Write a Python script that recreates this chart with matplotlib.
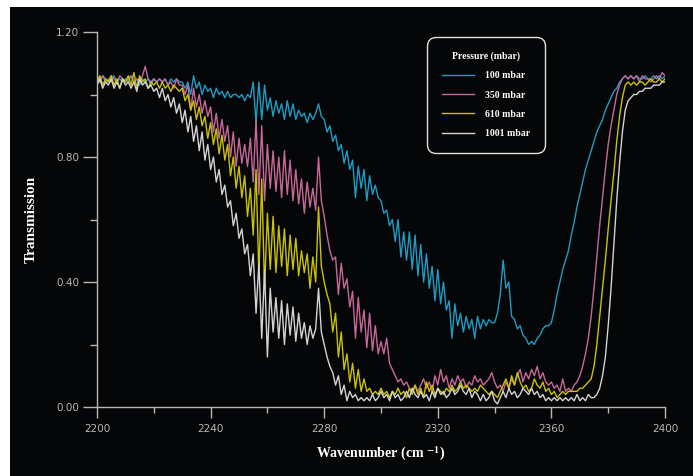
import numpy as np
import matplotlib
matplotlib.use("Agg")
import matplotlib.pyplot as plt
from matplotlib.patches import Rectangle

# wavenumber grid (cm-1), one reading per cm-1
wavenumber = np.arange(2200, 2401)

# transmission, 2200 -> 2400
t_100 = [
    1.05, 1.04, 1.06, 1.04, 1.05, 1.04, 1.06, 1.04, 1.05, 1.04,
    1.05, 1.04, 1.06, 1.04, 1.05, 1.03, 1.05, 1.04, 1.05, 1.03,
    1.05, 1.04, 1.05, 1.04, 1.05, 1.03, 1.05, 1.04, 1.05, 1.04,
    1.04, 1.02, 1.04, 1.00, 1.06, 1.02, 1.04, 1.00, 1.03, 1.01,
    1.02, 0.99, 1.02, 1.00, 1.01, 0.99, 1.01, 0.99, 1.00, 1.00,
    0.99, 1.00, 0.98, 1.00, 0.99, 1.04, 0.91, 1.04, 0.92, 1.03,
    0.95, 0.99, 0.93, 0.98, 0.94, 0.97, 0.92, 0.98, 0.93, 0.97,
    0.92, 0.95, 0.93, 0.94, 0.91, 0.94, 0.92, 0.94, 0.97, 0.93,
    0.92, 0.88, 0.90, 0.85, 0.87, 0.82, 0.84, 0.78, 0.82, 0.76,
    0.79, 0.67, 0.77, 0.70, 0.76, 0.66, 0.74, 0.68, 0.71, 0.67,
    0.66, 0.62, 0.63, 0.58, 0.60, 0.53, 0.60, 0.48, 0.56, 0.47,
    0.56, 0.44, 0.55, 0.42, 0.52, 0.40, 0.49, 0.38, 0.45, 0.34,
    0.44, 0.33, 0.40, 0.31, 0.34, 0.22, 0.33, 0.26, 0.30, 0.24,
    0.29, 0.25, 0.28, 0.22, 0.29, 0.25, 0.28, 0.26, 0.28, 0.27,
    0.27, 0.30, 0.36, 0.47, 0.38, 0.40, 0.29, 0.28, 0.25, 0.26,
    0.23, 0.22, 0.20, 0.21, 0.20, 0.22, 0.23, 0.25, 0.26, 0.26,
    0.27, 0.31, 0.36, 0.40, 0.44, 0.47, 0.50, 0.55, 0.59, 0.64,
    0.68, 0.72, 0.76, 0.79, 0.82, 0.85, 0.88, 0.90, 0.92, 0.95,
    0.97, 0.99, 1.01, 1.02, 1.04, 1.05, 1.06, 1.05, 1.06, 1.05,
    1.06, 1.05, 1.05, 1.06, 1.05, 1.05, 1.06, 1.05, 1.06, 1.05,
    1.06,
]
t_350 = [
    1.06, 1.04, 1.06, 1.05, 1.04, 1.06, 1.05, 1.04, 1.06, 1.05,
    1.04, 1.05, 1.06, 1.04, 1.05, 1.04, 1.06, 1.09, 1.05, 1.04,
    1.05, 1.04, 1.05, 1.04, 1.05, 1.03, 1.04, 1.02, 1.05, 1.03,
    1.03, 1.00, 1.03, 0.95, 1.02, 0.96, 1.00, 0.94, 0.98, 0.93,
    0.96, 0.88, 0.94, 0.86, 0.92, 0.85, 0.90, 0.80, 0.88, 0.77,
    0.86, 0.78, 0.84, 0.77, 0.86, 0.72, 0.92, 0.68, 0.90, 0.66,
    0.84, 0.70, 0.82, 0.69, 0.80, 0.67, 0.82, 0.68, 0.79, 0.66,
    0.76, 0.65, 0.73, 0.62, 0.72, 0.64, 0.70, 0.63, 0.80, 0.66,
    0.61, 0.55, 0.50, 0.47, 0.48, 0.36, 0.46, 0.38, 0.41, 0.32,
    0.37, 0.22, 0.35, 0.24, 0.31, 0.19, 0.30, 0.18, 0.26, 0.17,
    0.21, 0.17, 0.22, 0.14, 0.12, 0.10, 0.08, 0.09, 0.07, 0.08,
    0.06, 0.05, 0.07, 0.05, 0.07, 0.09, 0.06, 0.08, 0.05, 0.10,
    0.07, 0.12, 0.08, 0.10, 0.06, 0.09, 0.07, 0.10, 0.08, 0.09,
    0.06, 0.08, 0.07, 0.10, 0.08, 0.09, 0.07, 0.08, 0.09, 0.11,
    0.08, 0.06, 0.07, 0.05, 0.08, 0.06, 0.09, 0.07, 0.10, 0.12,
    0.08, 0.11, 0.09, 0.12, 0.10, 0.13, 0.09, 0.11, 0.08, 0.07,
    0.08, 0.06, 0.07, 0.05, 0.09, 0.05, 0.06, 0.05, 0.07, 0.08,
    0.10, 0.13, 0.17, 0.22, 0.29, 0.38, 0.48, 0.58, 0.67, 0.76,
    0.84, 0.90, 0.95, 1.00, 1.03, 1.05, 1.06, 1.05, 1.06, 1.05,
    1.06, 1.04, 1.06, 1.05, 1.05, 1.04, 1.05, 1.06, 1.05, 1.07,
    1.06,
]
t_610 = [
    1.04, 1.06, 1.03, 1.05, 1.04, 1.06, 1.03, 1.05, 1.02, 1.05,
    1.04, 1.06, 1.03, 1.07, 1.02, 1.06, 1.04, 1.05, 1.02, 1.04,
    1.03, 1.04, 1.02, 1.04, 1.02, 1.03, 1.01, 1.03, 1.02, 1.01,
    1.02, 0.98, 1.00, 0.95, 0.98, 0.92, 0.96, 0.90, 0.93, 0.86,
    0.91, 0.84, 0.89, 0.81, 0.87, 0.79, 0.84, 0.74, 0.80, 0.70,
    0.77, 0.67, 0.74, 0.61, 0.70, 0.55, 0.76, 0.42, 0.73, 0.38,
    0.62, 0.44, 0.61, 0.43, 0.58, 0.45, 0.57, 0.42, 0.55, 0.44,
    0.54, 0.42, 0.50, 0.43, 0.49, 0.38, 0.48, 0.40, 0.64, 0.45,
    0.40, 0.36, 0.33, 0.24, 0.30, 0.16, 0.24, 0.12, 0.17, 0.08,
    0.14, 0.06, 0.12, 0.05, 0.09, 0.05, 0.06, 0.04, 0.05, 0.04,
    0.06, 0.04, 0.05, 0.03, 0.05, 0.04, 0.06, 0.04, 0.05, 0.03,
    0.06, 0.04, 0.07, 0.04, 0.06, 0.03, 0.08, 0.05, 0.07, 0.04,
    0.06, 0.05, 0.04, 0.06, 0.05, 0.07, 0.05, 0.06, 0.08, 0.06,
    0.07, 0.06, 0.05, 0.06, 0.05, 0.07, 0.06, 0.05, 0.04, 0.05,
    0.04, 0.03, 0.05, 0.07, 0.09, 0.06, 0.10, 0.07, 0.11, 0.08,
    0.06, 0.07, 0.05, 0.06, 0.09, 0.07, 0.06, 0.08, 0.05, 0.06,
    0.04, 0.05, 0.03, 0.04, 0.05, 0.04, 0.05, 0.05, 0.05, 0.05,
    0.06, 0.06, 0.07, 0.08, 0.09, 0.13, 0.20, 0.29, 0.38, 0.47,
    0.57, 0.66, 0.75, 0.85, 0.93, 0.99, 1.03, 1.04, 1.03, 1.04,
    1.03, 1.04, 1.04, 1.03, 1.04, 1.05, 1.04, 1.04, 1.05, 1.04,
    1.05,
]
t_1001 = [
    1.03, 1.05, 1.02, 1.04, 1.03, 1.05, 1.02, 1.04, 1.02, 1.05,
    1.03, 1.04, 1.02, 1.04, 1.01, 1.05, 1.03, 1.04, 1.02, 1.03,
    1.01, 1.02, 0.99, 1.02, 0.98, 1.00, 0.96, 0.99, 0.94, 0.97,
    0.91, 0.95, 0.88, 0.93, 0.85, 0.90, 0.82, 0.88, 0.79, 0.84,
    0.76, 0.80, 0.72, 0.76, 0.68, 0.71, 0.64, 0.66, 0.58, 0.62,
    0.54, 0.57, 0.49, 0.52, 0.42, 0.49, 0.30, 0.46, 0.22, 0.44,
    0.16, 0.38, 0.24, 0.35, 0.22, 0.34, 0.20, 0.33, 0.23, 0.32,
    0.21, 0.30, 0.22, 0.27, 0.20, 0.26, 0.22, 0.25, 0.38, 0.24,
    0.20, 0.16, 0.13, 0.11, 0.07, 0.10, 0.04, 0.07, 0.02, 0.05,
    0.03, 0.04, 0.02, 0.03, 0.02, 0.03, 0.02, 0.04, 0.02, 0.03,
    0.05, 0.03, 0.04, 0.02, 0.05, 0.03, 0.04, 0.02, 0.03, 0.05,
    0.03, 0.06, 0.04, 0.03, 0.05, 0.03, 0.04, 0.02, 0.05, 0.03,
    0.06, 0.04, 0.05, 0.03, 0.04, 0.06, 0.04, 0.05, 0.07, 0.05,
    0.04, 0.06, 0.03, 0.05, 0.04, 0.02, 0.04, 0.02, 0.03, 0.05,
    0.02, 0.01, 0.03, 0.05, 0.03, 0.06, 0.04, 0.05, 0.03, 0.04,
    0.06, 0.05, 0.04, 0.06, 0.04, 0.05, 0.03, 0.04, 0.02, 0.03,
    0.02, 0.03, 0.02, 0.03, 0.02, 0.03, 0.02, 0.03, 0.02, 0.04,
    0.02, 0.03, 0.02, 0.04, 0.03, 0.03, 0.04, 0.06, 0.10, 0.16,
    0.26, 0.38, 0.52, 0.66, 0.78, 0.88, 0.95, 0.98, 0.99, 1.00,
    1.00, 1.01, 1.01, 1.02, 1.02, 1.02, 1.03, 1.03, 1.03, 1.04,
    1.04,
]

series = [
    ("100 mbar", t_100, "#1f9cc4"),
    ("350 mbar", t_350, "#c8689a"),
    ("610 mbar", t_610, "#cbc200"),
    ("1001 mbar", t_1001, "#d4d4d4"),
]

x_ticks = [2200, 2240, 2280, 2320, 2360, 2400]
y_ticks = [0.0, 0.4, 0.8, 1.2]

SERIF = ["Liberation Serif", "DejaVu Serif"]
plt.rcParams["mathtext.fontset"] = "stix"

fig = plt.figure(figsize=(6.93, 4.76), dpi=100, facecolor="white")
# black panel with a light frame on top / left like the original screenshot
fig.patches.append(Rectangle((10 / 693, 0), 1, (476 - 7) / 476,
                             transform=fig.transFigure, facecolor="#050608",
                             edgecolor="none", zorder=-1))

ax = fig.add_axes([97 / 693, (476 - 407) / 476, 568 / 693, 375 / 476])
ax.set_facecolor("none")

for label, vals, colour in series:
    ax.plot(wavenumber, vals, color=colour, lw=1.0, label=label)

ax.set_xlim(2200, 2400)
ax.set_ylim(0, 1.2)
ax.set_xticks(x_ticks)
ax.set_xticks(np.arange(2220, 2400, 40), minor=True)
ax.set_yticks(y_ticks)
ax.set_yticks([0.2, 0.6, 1.0], minor=True)
ax.set_xticklabels([str(v) for v in x_ticks])
ax.set_yticklabels([f"{v:.2f}" for v in y_ticks])

for side in ("top", "right"):
    ax.spines[side].set_visible(False)
for side in ("left", "bottom"):
    ax.spines[side].set_color("#b8b8b8")
    ax.spines[side].set_linewidth(1.0)

ax.tick_params(axis="both", which="both", colors="#b8b8b8", width=1.0,
               labelsize=7.5, labelcolor="#b8b8b8", direction="out")
ax.tick_params(axis="y", which="major", length=10, pad=3)
ax.tick_params(axis="y", which="minor", length=5)
ax.tick_params(axis="x", which="major", length=8, pad=4)
ax.tick_params(axis="x", which="minor", length=4.5)

ax.set_xlabel(r"Wavenumber (cm $^{\mathbf{-1}}$)", family=SERIF,
              fontweight="bold", fontsize=10, color="white", labelpad=8)
ax.set_ylabel("Transmission", family=SERIF, fontweight="bold",
              fontsize=11, color="white")
ax.yaxis.set_label_coords(-0.104, 0.5)

leg = ax.legend(loc="upper left", bbox_to_anchor=(427 / 693, 1 - 37 / 476),
                bbox_transform=fig.transFigure, title="Pressure (mbar)",
                prop={"family": SERIF, "weight": "bold", "size": 7},
                title_fontproperties={"family": SERIF, "weight": "bold",
                                      "size": 7},
                frameon=True, fancybox=True, facecolor="#050608",
                edgecolor="#e0e0e0", framealpha=1, handlelength=3.3,
                handletextpad=1.2, labelspacing=1.05, borderpad=1.5,
                borderaxespad=0)
leg.get_frame().set_linewidth(1.0)
leg.get_frame().set_boxstyle("round", pad=0, rounding_size=0.9)
leg.get_title().set_color("white")
for txt in leg.get_texts():
    txt.set_color("white")

fig.savefig("out.png", dpi=100, facecolor=fig.get_facecolor())
